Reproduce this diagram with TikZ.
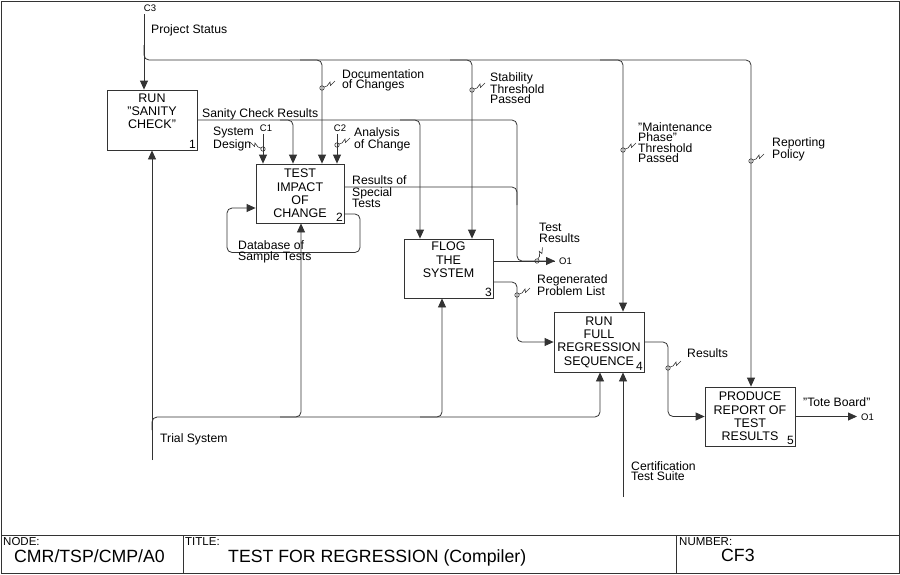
\documentclass[tikz,border=0pt]{standalone}
\usepackage{fontspec}
\setmainfont{Liberation Sans}
\usetikzlibrary{arrows.meta,calc}
\newcommand\sqg[3]{\draw[sq, shift={(#1)}, rotate=#2, xscale=#3] (0,0) circle (2.2) (2,-1) -- (5,-2) -- (8,-6) -- (8.5,-2.5) -- (13,-7);}
\begin{document}
\begin{tikzpicture}[x=1pt,y=-1pt,
  ln/.style={line width=0.8pt, draw=black!80},
  arr/.style={ln, -{Triangle[length=9pt,width=8pt]}},
  sq/.style={line width=0.6pt, draw=black!80},
  box/.style={ln, rectangle, inner sep=0pt, align=center, font=\fontsize{12.5}{13.4}\selectfont},
  num/.style={inner sep=1.5pt, anchor=south east, font=\fontsize{12}{12}\selectfont},
  lbl/.style={inner sep=0pt, anchor=north west, align=left, font=\fontsize{12.2}{10.5}\selectfont},
  tag/.style={inner sep=0pt, font=\fontsize{9.5}{10}\selectfont},
  small/.style={inner sep=0pt, anchor=north west, font=\fontsize{11.5}{12}\selectfont},
  big/.style={inner sep=0pt, anchor=north west, font=\fontsize{17.7}{20}\selectfont},
  rc/.style={rounded corners=5pt}]
\useasboundingbox (0,0) rectangle (900,574);
% frame and title block
\draw[ln] (1,1) rectangle (899,573);
\draw[ln] (1,535) -- (899,535);
\draw[ln] (183,535) -- (183,573);
\draw[ln] (676,535) -- (676,573);
\node[small] (nodeh) at (3,537) {NODE:};
\node[small] (titleh) at (185,537) {TITLE:};
\node[small] (numh) at (679,537) {NUMBER:};
\node[big] (nodev) at (14,549.5) {CMR/TSP/CMP/A0};
\node[big] (titlev) at (228,549.5) {TEST FOR REGRESSION (Compiler)};
\node[big] (numv) at (721,548.5) {CF3};
% boxes
\node[box, minimum width=90pt, minimum height=60pt] (b1) at (152,120) {RUN\\"SANITY\\CHECK"\\\strut};
\node[box, minimum width=88pt, minimum height=59pt] (b2) at (300,193.5) {TEST\\IMPACT\\OF\\CHANGE};
\node[box, minimum width=89pt, minimum height=59pt] (b3) at (448.5,268.5) {FLOG\\THE\\SYSTEM\\\strut};
\node[box, minimum width=90pt, minimum height=60pt] (b4) at (599,342) {RUN\\FULL\\REGRESSION\\SEQUENCE\hspace{4pt}};
\node[box, minimum width=90pt, minimum height=59pt] (b5) at (750,416.5) {PRODUCE\\REPORT OF\\TEST\\RESULTS};
\node[num] (n1) at (b1.south east) {1};
\node[num] (n2) at (b2.south east) {2};
\node[num] (n3) at (b3.south east) {3};
\node[num] (n4) at (b4.south east) {4};
\node[num] (n5) at (b5.south east) {5};
% x positions
\coordinate (xD) at (322,0);
\coordinate (xS) at (472,0);
\coordinate (xM) at (623,0);
\coordinate (xR) at (751,0);
\coordinate (xSC) at (293,0);
\coordinate (xSC2) at (420,0);
\coordinate (xC1) at (263,0);
\coordinate (xC2) at (337,0);
\coordinate (xT2) at (301,0);
\coordinate (xT3) at (442,0);
\coordinate (xT4) at (600,0);
% C3 Project Status
\coordinate (c3) at (144,14);
\node[tag] (c3l) at (150,8) {C3};
\node[lbl] (lps) at (151,24) {Project Status};
\draw[arr] (c3) -- (c3 |- b1.north);
\draw[arr, rc] (144,45) |- (751,60) -- (xR |- b5.north);
\draw[arr, rc] (300,60) -| (xD |- b2.north);
\draw[arr, rc] (450,60) -| (xS |- b3.north);
\draw[arr, rc] (600,60) -| (xM |- b4.north);
\sqg{322,88}{0}{1}
\node[lbl] (ldoc) at (342,69) {Documentation\\of Changes};
\sqg{472,90}{0}{1}
\node[lbl] (lstab) at (490,72) {Stability\\Threshold\\Passed};
\sqg{623,150}{0}{1}
\node[lbl] (lmaint) at (638,122) {"Maintenance\\Phase"\\Threshold\\Passed};
\sqg{751,161}{0}{1}
\node[lbl] (lrep) at (772,137) {Reporting\\Policy};
% C1, C2
\node[tag] (c1l) at (266,128) {C1};
\draw[arr] (263,134) -- (xC1 |- b2.north);
\sqg{263,149}{0}{-1}
\node[lbl] (lsys) at (213,127) {System\\Design};
\node[tag] (c2l) at (340,128) {C2};
\draw[arr] (337,134) -- (xC2 |- b2.north);
\sqg{337,145}{0}{1}
\node[lbl] (lana) at (354,127) {Analysis\\of Change};
% Sanity check results / test results O1
\coordinate (o1a) at (555,261);
\draw[arr, rc] (b1.east) -- (517,120) -- (517,261) -- (o1a);
\draw[arr, rc] (280,120) -| (xSC |- b2.north);
\draw[arr, rc] (400,120) -| (xSC2 |- b3.north);
\node[lbl] (lscr) at (202,108) {Sanity Check Results};
\draw[ln, rc] (b2.east |- 0,187) -- (517,187) -- (517,205);
\node[lbl, font=\fontsize{12.2}{11.6}\selectfont] (lrst) at (352,175.5) {Results of\\Special\\Tests};
\draw[ln] (b3.east |- o1a) -- (o1a);
\node[tag, anchor=west] (o1t) at (559,261.5) {O1};
\sqg{537,261}{40}{1}
\node[lbl] (ltr) at (539,223) {Test\\Results};
% database loop
\draw[arr, rc] (b2.east |- 0,214) -- (360,214) -- (360,252.5) -- (227,252.5) -- (227,208) -- (b2.west |- 0,208);
\node[lbl, font=\fontsize{12.2}{11}\selectfont] (ldb) at (238,240.5) {Database of\\Sample Tests};
% trial system
\coordinate (ts) at (152,460);
\draw[arr] (ts) -- (ts |- b1.south);
\draw[arr, rc] (152,430) -- (152,417) -| (xT4 |- b4.south);
\draw[arr, rc] (280,417) -| (xT2 |- b2.south);
\draw[arr, rc] (420,417) -| (xT3 |- b3.south);
\node[lbl] (lts) at (160,433) {Trial System};
% regenerated problem list
\draw[arr, rc] (b3.east |- 0,282) -- (517,282) |- (b4.west);
\sqg{517,295}{0}{1}
\node[lbl] (lreg) at (537,274) {Regenerated\\Problem List};
% certification
\coordinate (cert) at (623,497);
\draw[arr] (cert) -- (cert |- b4.south);
\node[lbl] (lcert) at (631,461) {Certification\\Test Suite};
% results
\draw[arr, rc] (b4.east) -- (668,342) |- (b5.west);
\sqg{668,368}{0}{1}
\node[lbl] (lres) at (687,348) {Results};
% tote board
\coordinate (o1b) at (857,416.5);
\draw[arr] (b5.east) -- (o1b);
\node[tag, anchor=west] (o1bt) at (861,417) {O1};
\node[lbl] (ltote) at (803,397) {"Tote Board"};
\end{tikzpicture}
\end{document}
